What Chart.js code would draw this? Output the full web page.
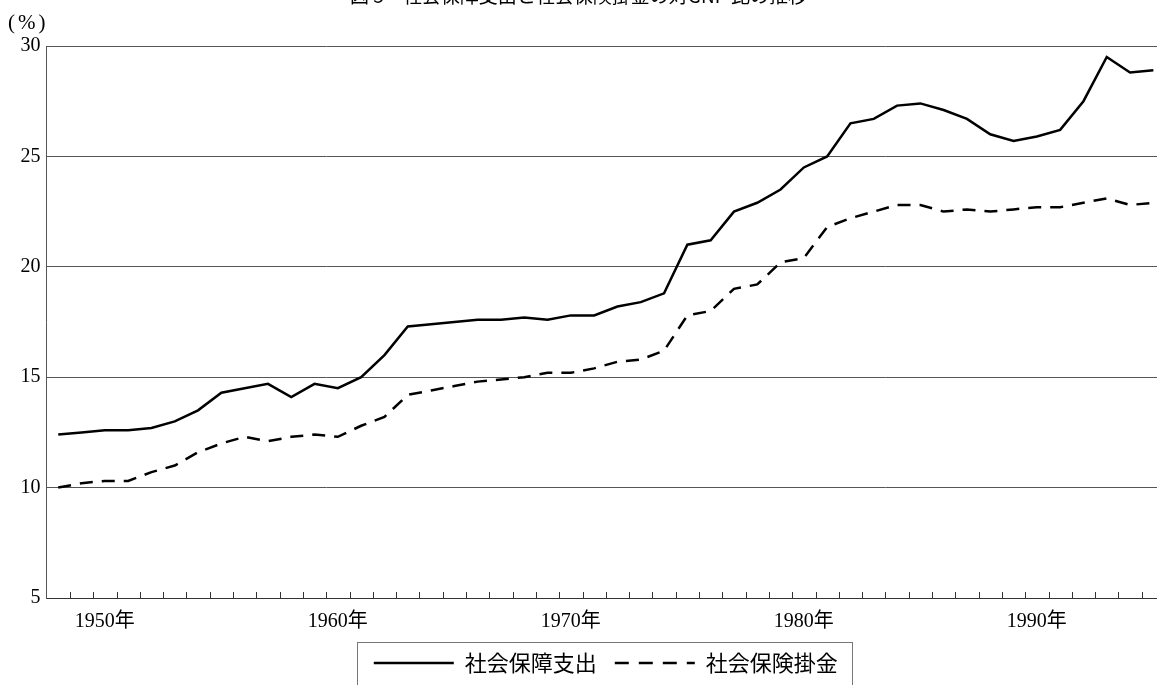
<!DOCTYPE html>
<html>
<head>
<meta charset="utf-8">
<script src="https://cdn.jsdelivr.net/npm/chart.js@4.4.1/dist/chart.umd.min.js"></script>
<style>
  html, body { margin: 0; padding: 0; background: #fff; }
  #frame { position: relative; width: 1157px; height: 685px; overflow: hidden; }
  #title {
    position: absolute; left: 0; width: 1157px; top: -15px;
    text-align: center; font: 19px/20px "Noto Sans CJK JP", "Noto Sans", sans-serif; color: #000;
  }
  #unit {
    position: absolute; left: 8px; top: 10px; letter-spacing: 3px;
    font: 21px/24px "Liberation Serif", "DejaVu Serif", serif; color: #000;
  }
  #chart { position: absolute; left: 0; top: 0; }
</style>
</head>
<body>
<div id="frame">
  <canvas id="chart" width="1170" height="700"></canvas>
  <div id="title">図 3　社会保障支出と社会保険掛金の対GNP 比の推移</div>
  <div id="unit">(%)</div>
</div>
<script>
const years = [];
for (let y = 1948; y <= 1995; y++) years.push(String(y));

// 社会保障支出 (% of GNP)
const socialSecurityExpenditure = [
  12.4, 12.5, 12.6, 12.6, 12.7, 13.0, 13.5, 14.3, 14.5, 14.7,
  14.1, 14.7, 14.5, 15.0, 16.0, 17.3, 17.4, 17.5, 17.6, 17.6,
  17.7, 17.6, 17.8, 17.8, 18.2, 18.4, 18.8, 21.0, 21.2, 22.5,
  22.9, 23.5, 24.5, 25.0, 26.5, 26.7, 27.3, 27.4, 27.1, 26.7,
  26.0, 25.7, 25.9, 26.2, 27.5, 29.5, 28.8, 28.9
];

// 社会保険掛金 (% of GNP)
const socialInsuranceContributions = [
  10.0, 10.2, 10.3, 10.3, 10.7, 11.0, 11.6, 12.0, 12.3, 12.1,
  12.3, 12.4, 12.3, 12.8, 13.2, 14.2, 14.4, 14.6, 14.8, 14.9,
  15.0, 15.2, 15.2, 15.4, 15.7, 15.8, 16.2, 17.8, 18.0, 19.0,
  19.2, 20.2, 20.4, 21.8, 22.2, 22.5, 22.8, 22.8, 22.5, 22.6,
  22.5, 22.6, 22.7, 22.7, 22.9, 23.1, 22.8, 22.9
];

const yTickValues = [5, 10, 15, 20, 25, 30];
const xLabelYears = ['1950', '1960', '1970', '1980', '1990'];

const SERIF = '"Liberation Serif", "DejaVu Serif", "Noto Sans CJK JP", serif';
const SANS = '"Noto Sans CJK JP", "Noto Sans", sans-serif';

// small upward tick marks between the years, plus a frame round the legend
const framePlugin = {
  id: 'framePlugin',
  afterDraw: function (chart) {
    const ctx = chart.ctx;
    const xs = chart.scales.x;
    const area = chart.chartArea;
    ctx.save();
    ctx.strokeStyle = '#333';
    ctx.lineWidth = 1;
    for (let i = 1; i < years.length; i++) {
      const x = Math.round((xs.getPixelForValue(i - 1) + xs.getPixelForValue(i)) / 2) + 0.5;
      ctx.beginPath();
      ctx.moveTo(x, area.bottom);
      ctx.lineTo(x, area.bottom - 6);
      ctx.stroke();
    }

    const lg = chart.legend;
    if (lg && lg.legendHitBoxes && lg.legendHitBoxes.length) {
      const boxes = lg.legendHitBoxes;
      let l = Infinity, r = -Infinity;
      boxes.forEach(function (b) {
        l = Math.min(l, b.left);
        r = Math.max(r, b.left + b.width);
      });
      ctx.strokeStyle = '#777';
      ctx.strokeRect(Math.round(l - 17) + 0.5, Math.round(lg.top + 8) + 0.5, Math.round(r - l + 31), 80);
    }
    ctx.restore();
  }
};

new Chart(document.getElementById('chart'), {
  type: 'line',
  data: {
    labels: years,
    datasets: [
      {
        label: '社会保障支出',
        data: socialSecurityExpenditure,
        borderColor: '#000',
        backgroundColor: '#000',
        borderWidth: 2.5,
        pointRadius: 0,
        tension: 0,
        pointStyle: 'line',
      },
      {
        label: '社会保険掛金',
        data: socialInsuranceContributions,
        borderColor: '#000',
        backgroundColor: '#000',
        borderWidth: 2.5,
        borderDash: [13, 9],
        pointRadius: 0,
        tension: 0,
        pointStyle: 'line',
      },
    ],
  },
  options: {
    responsive: false,
    devicePixelRatio: 1,
    animation: false,
    layout: { padding: { top: 46, left: 0, right: 5, bottom: 16 } },
    plugins: {
      title: { display: false },
      tooltip: { enabled: false },
      legend: {
        position: 'bottom',
        fullSize: false,
        labels: {
          usePointStyle: true,
          pointStyleWidth: 80,
          padding: 18,
          color: '#000',
          font: { family: SANS, size: 22 },
          generateLabels: function (chart) {
            const items = Chart.defaults.plugins.legend.labels.generateLabels(chart);
            items.forEach(function (it) {
              const ds = chart.data.datasets[it.datasetIndex];
              it.lineDash = ds.borderDash ? [14, 10] : [];
              it.lineWidth = 2.5;
              it.strokeStyle = '#000';
            });
            return items;
          },
        },
      },
    },
    scales: {
      x: {
        offset: true,
        grid: { display: false, offset: true },
        border: { display: true, color: '#333', width: 1 },
        ticks: {
          autoSkip: false,
          maxRotation: 0,
          padding: 4,
          color: '#000',
          font: { family: SERIF, size: 20 },
          callback: function (value) {
            const label = this.getLabelForValue(value);
            return xLabelYears.indexOf(label) >= 0 ? label + '年' : '';
          },
        },
        afterFit: function (scale) { scale.height = 36; },
      },
      y: {
        min: 5,
        max: 30,
        grid: { color: '#555', lineWidth: 1, drawTicks: false },
        border: { display: true, color: '#555', width: 1 },
        ticks: {
          padding: 6,
          color: '#000',
          font: { family: SERIF, size: 20 },
        },
        afterBuildTicks: function (scale) {
          scale.ticks = yTickValues.map(function (v) { return { value: v }; });
        },
        afterFit: function (scale) { scale.width = 46.6; },
      },
    },
  },
  plugins: [framePlugin],
});
</script>
</body>
</html>
